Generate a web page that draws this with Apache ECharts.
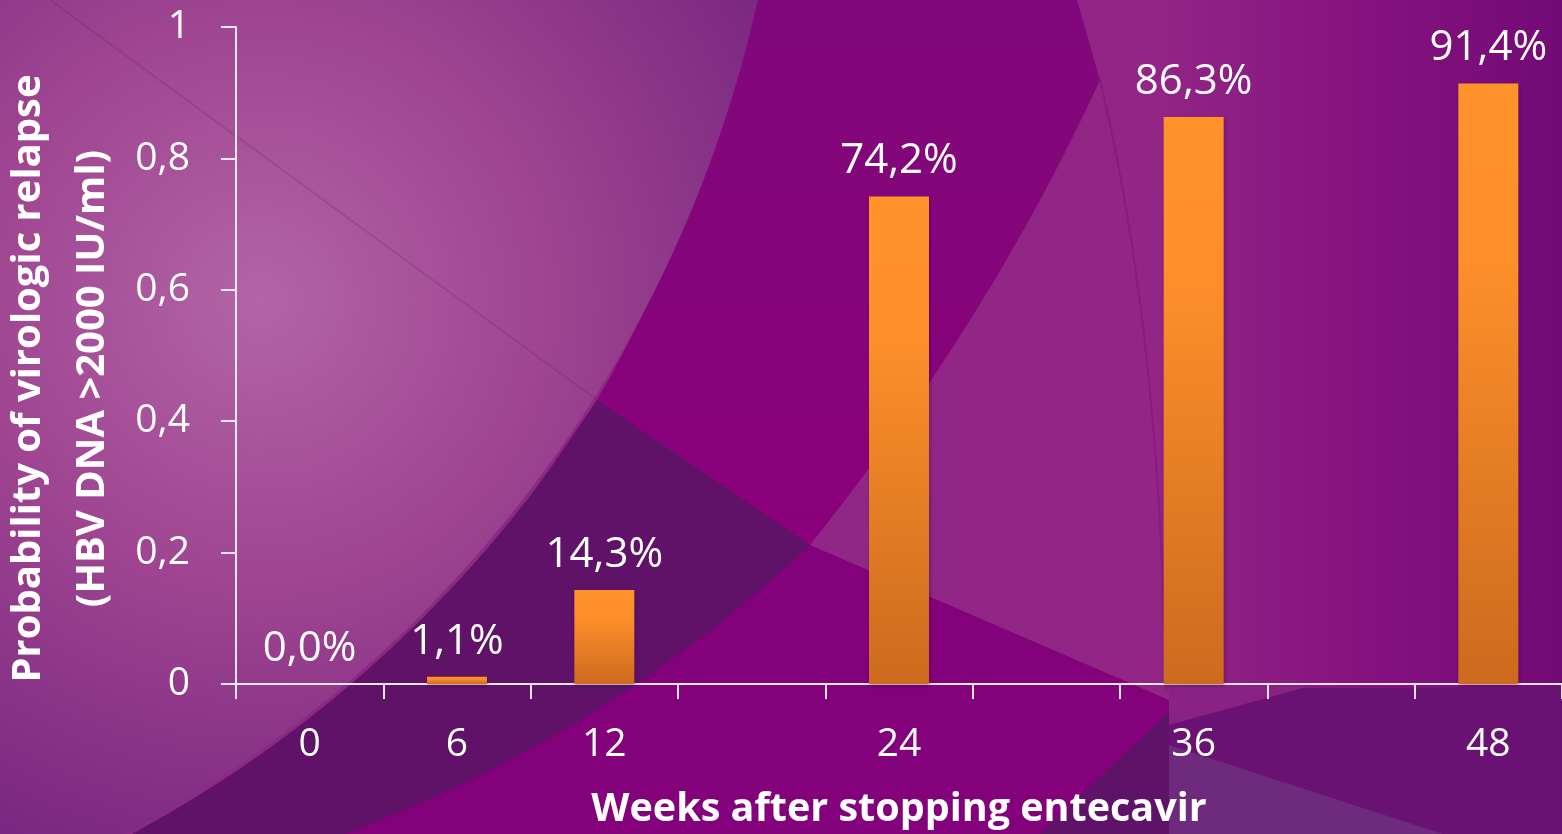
<!DOCTYPE html>
<html>
<head>
<meta charset="utf-8">
<script src="https://cdn.jsdelivr.net/npm/echarts@6/dist/echarts.min.js"></script>
<style>
  html, body { margin: 0; padding: 0; }
  #chart { width: 1562px; height: 834px; }
</style>
</head>
<body>
<div id="chart"></div>
<script>
// weeks after stopping entecavir (empty slots keep the original spacing)
const weeks = ['0', '6', '12', '', '24', '', '36', '', '48'];
// probability of virologic relapse
const relapse = [0, 0.011, 0.143, null, 0.742, null, 0.863, null, 0.914];
const yTicks = { min: 0, max: 1, step: 0.2 };

const white = '#ffffff';
const axisColor = '#f3e8f2';

function comma(v) {
    return String(v).replace('.', ',');
}

// decorative slide background, drawn as svg paths
const bgPaths = {
    bgMagenta: 'M597 400 L810 545 L1169 700 L1169 834 L300 834 Z',
    bgWedge: 'M1040 834 L1169 712 L1169 834 Z',
    bgLens: 'M745 0 A1250 1250 0 0 1 597 400 L810 545 Q990 320 1100 80 L1077 0 Z',
    bgBand: 'M597 400 L810 545 A1372 1372 0 0 1 344 834 L132 834 A1250 1250 0 0 0 597 400 Z',
    bgCorner: 'M1169 688 L1562 688 L1562 834 L1169 834 Z',
    bgCornerLight: 'M1169 686 L1310 686 L1169 725 Z',
    bgCornerTri: 'M1169 745 L1443 834 L1169 834 Z',
    bgCurve: 'M1100 80 Q1160 330 1166 690'
};
Object.keys(bgPaths).forEach(function(name) {
    echarts.graphic.registerShape(name, echarts.graphic.extendPath(bgPaths[name], {}));
});

function bgShapes() {
    return [
        {
            type: 'rect', z: -10, silent: true,
            shape: { x: 0, y: 0, width: 1562, height: 834 },
            style: {
                fill: new echarts.graphic.LinearGradient(0, 0, 1, 0, [
                    { offset: 0, color: '#8a2a84' },
                    { offset: 0.74, color: '#922586' },
                    { offset: 0.88, color: '#84127e' },
                    { offset: 1, color: '#720a76' }
                ])
            }
        },
        { type: 'bgMagenta', z: -9, silent: true, style: { fill: '#83017b' } },
        { type: 'bgWedge', z: -9, silent: true, style: { fill: '#5e1268' } },
        {
            type: 'bgLens', z: -9, silent: true,
            style: {
                fill: new echarts.graphic.LinearGradient(0, 0, 0, 1, [
                    { offset: 0, color: '#80087a' },
                    { offset: 1, color: '#8b007b' }
                ])
            }
        },
        { type: 'bgBand', z: -9, silent: true, style: { fill: '#5f1268' } },
        { type: 'bgCorner', z: -9, silent: true, style: { fill: '#6a1274' } },
        { type: 'bgCornerLight', z: -8, silent: true, style: { fill: '#8a2283' } },
        { type: 'bgCornerTri', z: -8, silent: true, style: { fill: '#6e2a7c' } },
        {
            // light disc, top left
            type: 'circle', z: -8, silent: true,
            shape: { cx: -463, cy: -269, r: 1250 },
            style: {
                fill: new echarts.graphic.RadialGradient(260, 300, 620, [
                    { offset: 0, color: '#b265a6' },
                    { offset: 0.45, color: '#9f4591' },
                    { offset: 1, color: '#762480' }
                ], true)
            }
        },
        {
            type: 'line', z: -7, silent: true,
            shape: { x1: 50, y1: 0, x2: 597, y2: 400 },
            style: { stroke: 'rgba(95, 25, 100, 0.2)', lineWidth: 2 }
        },
        {
            type: 'bgCurve', z: -7, silent: true,
            style: { fill: null, stroke: 'rgba(110, 10, 115, 0.3)', lineWidth: 2 }
        }
    ];
}

let chartElem = document.getElementById('chart');
let chart = echarts.init(chartElem);
chart.setOption({
    backgroundColor: '#8e2385',
    textStyle: { fontFamily: 'Open Sans' },
    graphic: bgShapes(),
    grid: { left: 236, right: 0, top: 27, bottom: 150, outerBoundsMode: 'none', containLabel: false },
    xAxis: {
        type: 'category',
        data: weeks,
        axisLine: { lineStyle: { color: axisColor, width: 2 } },
        axisTick: { show: true, interval: 0, length: 15, lineStyle: { color: axisColor, width: 2 } },
        axisLabel: { interval: 0, color: white, fontSize: 39, margin: 41 },
        name: 'Weeks after stopping entecavir',
        nameLocation: 'middle',
        nameGap: 106,
        nameTextStyle: { color: white, fontSize: 39.5, fontWeight: 'bold' }
    },
    yAxis: {
        type: 'value',
        min: yTicks.min,
        max: yTicks.max,
        interval: yTicks.step,
        splitLine: { show: false },
        axisLine: { show: true, lineStyle: { color: axisColor, width: 2 } },
        axisTick: { show: true, length: 15, lineStyle: { color: axisColor, width: 2 } },
        axisLabel: { color: white, fontSize: 39, margin: 46, formatter: comma },
        name: 'Probability of virologic relapse\n(HBV DNA >2000 IU/ml)',
        nameLocation: 'middle',
        nameRotate: 90,
        nameGap: 107,
        nameTextStyle: {
            color: white, fontSize: 40, fontWeight: 'bold',
            lineHeight: 64, padding: [0, 46, 0, 0]
        }
    },
    series: [{
        type: 'bar',
        data: relapse,
        barWidth: 60,
        itemStyle: {
            color: new echarts.graphic.LinearGradient(0, 0, 0, 1, [
                { offset: 0, color: '#ff922a' },
                { offset: 0.3, color: '#fc8f2a' },
                { offset: 1, color: '#cc6a1e' }
            ]),
            shadowColor: 'rgba(40, 0, 40, 0.35)',
            shadowBlur: 4,
            shadowOffsetX: 1,
            shadowOffsetY: 2
        },
        label: {
            show: true,
            position: 'top',
            distance: 14,
            color: white,
            fontSize: 42,
            formatter: function(p) {
                return comma((p.value * 100).toFixed(1)) + '%';
            }
        }
    }]
});
window.addEventListener('resize', function() {
    setTimeout(() => {
        chart.resize();
    }, 500);
});
</script>
</body>
</html>
